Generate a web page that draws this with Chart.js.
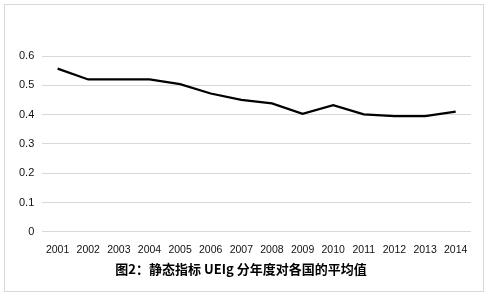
<!DOCTYPE html>
<html>
<head>
<meta charset="utf-8">
<script src="https://cdn.jsdelivr.net/npm/chart.js@4/dist/chart.umd.min.js"></script>
<style>
  body { margin: 0; background: #fff; }
  #box { position: absolute; left: 4px; top: 4px; width: 478px; height: 286px; border: 1px solid #d9d9d9; }
</style>
</head>
<body>
<div id="box"><canvas id="c" width="478" height="286"></canvas></div>
<script>
// Données du graphique
const years = ['2001', '2002', '2003', '2004', '2005', '2006', '2007', '2008', '2009', '2010', '2011', '2012', '2013', '2014'];
const ueigValues = [0.557, 0.52, 0.52, 0.52, 0.504, 0.472, 0.45, 0.438, 0.403, 0.432, 0.401, 0.395, 0.395, 0.41];
const yTicks = [0, 0.1, 0.2, 0.3, 0.4, 0.5, 0.6];
const chartTitle = '图2：静态指标 UEIg 分年度对各国的平均值';

const ctx = document.getElementById('c').getContext('2d');
new Chart(ctx, {
    type: 'line',
    data: {
        labels: years,
        datasets: [{
            data: ueigValues,
            borderColor: '#000',
            borderWidth: 2.25,
            pointRadius: 0,
            tension: 0,
            fill: false
        }]
    },
    options: {
        responsive: false,
        animation: false,
        layout: { padding: { top: 51, left: 6, right: 12, bottom: 14 } },
        plugins: {
            legend: { display: false },
            tooltip: { enabled: false },
            title: {
                display: true,
                position: 'bottom',
                text: chartTitle,
                color: '#000',
                font: { family: '"Noto Sans CJK SC"', size: 13, weight: 'bold' },
                padding: { top: 1, bottom: 0 }
            }
        },
        scales: {
            x: {
                offset: true,
                grid: { display: false },
                border: { display: false },
                ticks: {
                    color: '#111',
                    font: { family: '"Liberation Sans"', size: 10.5 },
                    padding: 4,
                    maxRotation: 0,
                    autoSkip: false
                }
            },
            y: {
                min: 0,
                max: 0.6,
                afterBuildTicks: axis => { axis.ticks = yTicks.map(v => ({ value: v })); },
                grid: { color: '#d9d9d9', drawTicks: false },
                border: { display: false },
                ticks: {
                    color: '#111',
                    font: { family: '"Liberation Sans"', size: 11 },
                    padding: 8,
                    callback: v => String(Math.round(v * 10) / 10)
                }
            }
        }
    }
});
</script>
</body>
</html>
